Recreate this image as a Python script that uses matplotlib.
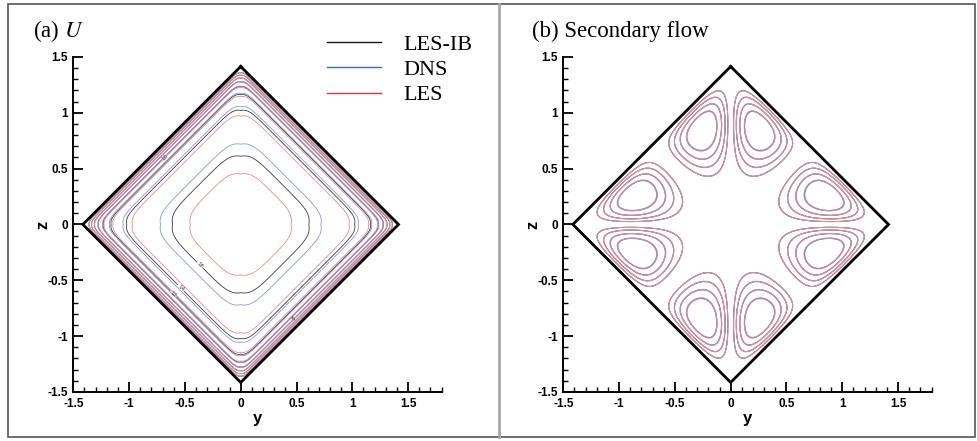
import numpy as np
import matplotlib
matplotlib.use("Agg")
import matplotlib.pyplot as plt
from matplotlib.lines import Line2D
from matplotlib.patches import Rectangle
from matplotlib.ticker import MultipleLocator

plt.rcParams["mathtext.fontset"] = "stix"

# ---------------- data ----------------
series_names = ["LES-IB", "DNS", "LES"]
legend_colors = ["#151515", "#4466c4", "#d83a3c"]
line_colors = ["#3a3a44", "#8499da", "#e48c90"]
u_levels = [2, 4, 6, 8, 10, 12, 14, 16]
u_centre = [17.65, 18.06, 17.15]          # centre-line U of each data set
psi_levels = [0.08, 0.20, 0.38, 0.62]     # streamline levels (fraction of peak)
psi_strength = [1.00, 0.98, 1.02]         # relative vortex strength per data set
xticks = [-1.5, -1, -0.5, 0, 0.5, 1, 1.5]
yticks = [-1.5, -1, -0.5, 0, 0.5, 1, 1.5]
panel_titles = ["(a) $\\mathit{U}$", "(b) Secondary flow"]
half_diag = np.sqrt(2.0)
duct_y = [0, half_diag, 0, -half_diag, 0]
duct_z = [half_diag, 0, -half_diag, 0, half_diag]

# ---------------- model fields in the rotated duct ----------------
grid = np.linspace(-1.45, 1.45, 1001)
Y, Z = np.meshgrid(grid, grid)
A = (Y + Z) / np.sqrt(2)
B = (Z - Y) / np.sqrt(2)
rmax = np.maximum(np.abs(A), np.abs(B))
outside = rmax > 1
nexp = 2 + 10 * rmax ** 2 + 20 * rmax ** 8
rho = (np.abs(A) ** nexp + np.abs(B) ** nexp) ** (1 / nexp)
dwall = np.clip(1 - rho, 0, None)
u_shape = dwall ** 0.135 * (1 - np.exp(-dwall / 0.06))
u_shape = np.where(outside, 0.0, u_shape)

ab = A * B
diag = B ** 2 - A ** 2
wall = np.clip((1 - A ** 2) * (1 - B ** 2), 0, None)
psi = np.sign(ab * diag) * ab ** 2 * np.abs(diag) ** 1.4 * wall ** 2.0
psi = np.where(outside, 0.0, psi)
psi_max = np.abs(psi).max()
psi_lv = sorted([-f * psi_max for f in psi_levels] + [f * psi_max for f in psi_levels])

# ---------------- figure ----------------
W, H = 977, 441
fig = plt.figure(figsize=(W / 100, H / 100), dpi=100)

# outer frame and divider
fig.add_artist(Rectangle((8 / W, 4 / H), (975 - 8) / W, (437 - 4) / H,
                         transform=fig.transFigure, fill=False,
                         edgecolor="#555555", linewidth=1.2))
fig.add_artist(Line2D([499 / W, 499 / W], [4 / H, 437 / H],
                      transform=fig.transFigure, color="#a8a8a8", linewidth=2.0))

ax_w = 3.3 * 111.6 / W
ax_h = 3.0 * 111.7 / H
bottom = (H - 392) / H
axa = fig.add_axes([73.3 / W, bottom, ax_w, ax_h])
axb = fig.add_axes([563.3 / W, bottom, ax_w, ax_h])


def style(ax):
    ax.set_xlim(-1.5, 1.8)
    ax.set_ylim(-1.5, 1.5)
    ax.spines[["top", "right"]].set_visible(False)
    for s in ["left", "bottom"]:
        ax.spines[s].set_linewidth(1.4)
    ax.set_xticks(xticks)
    ax.set_yticks(yticks)
    ax.set_xticklabels([f"{v:g}" for v in xticks])
    ax.set_yticklabels([f"{v:g}" for v in yticks])
    ax.xaxis.set_minor_locator(MultipleLocator(0.1))
    ax.yaxis.set_minor_locator(MultipleLocator(0.1))
    ax.tick_params(which="major", direction="in", length=7, width=1.3)
    ax.tick_params(which="minor", direction="in", length=3.5, width=1.0)
    ax.tick_params(axis="x", which="major", pad=4)
    ax.tick_params(axis="y", which="major", pad=4)
    for lab in ax.get_xticklabels() + ax.get_yticklabels():
        lab.set_fontfamily("Liberation Sans")
        lab.set_fontweight("bold")
        lab.set_fontsize(8.5)
    ax.set_xlabel("y", fontfamily="Liberation Sans", fontweight="bold",
                  fontsize=12, labelpad=1)
    ax.set_ylabel("z", fontfamily="Liberation Sans", fontweight="bold",
                  fontsize=12, labelpad=-2)
    ax.set_facecolor("none")


# panel (a): streamwise velocity contours
for name, uc, col in zip(series_names, u_centre, line_colors):
    cs = axa.contour(Y, Z, uc * u_shape, levels=u_levels, colors=[col],
                     linewidths=0.6)
    if name == "LES-IB":
        axa.clabel(cs, levels=u_levels[3:], fmt="%d", fontsize=4,
                   inline=True, inline_spacing=1, colors="#333333")
axa.plot(duct_y, duct_z, color="black", linewidth=2.0, solid_joinstyle="miter")
style(axa)

# panel (b): secondary-flow streamlines
for name, s, col in zip(series_names, psi_strength, line_colors):
    axb.contour(Y, Z, s * psi, levels=psi_lv, colors=[col], linewidths=0.7,
                linestyles="solid")
axb.plot(duct_y, duct_z, color="black", linewidth=2.0, solid_joinstyle="miter")
style(axb)

# titles
fig.text(33 / W, 1 - 31 / H, panel_titles[0], fontfamily="Liberation Serif",
         fontsize=16.5, va="center", ha="left")
fig.text(531.7 / W, 1 - 31 / H, panel_titles[1], fontfamily="Liberation Serif",
         fontsize=16.5, va="center", ha="left")

# legend
handles = [Line2D([], [], color=c, linewidth=1.0) for c in legend_colors]
axa.legend(handles, series_names, loc="upper left",
           bbox_to_anchor=(327 / W, 1 - 34 / H), bbox_transform=fig.transFigure,
           frameon=False, prop={"family": "Liberation Serif", "size": 16},
           handlelength=2.45, handletextpad=1.0, labelspacing=0.22,
           borderpad=0, borderaxespad=0)

fig.savefig("out.png", dpi=100)
